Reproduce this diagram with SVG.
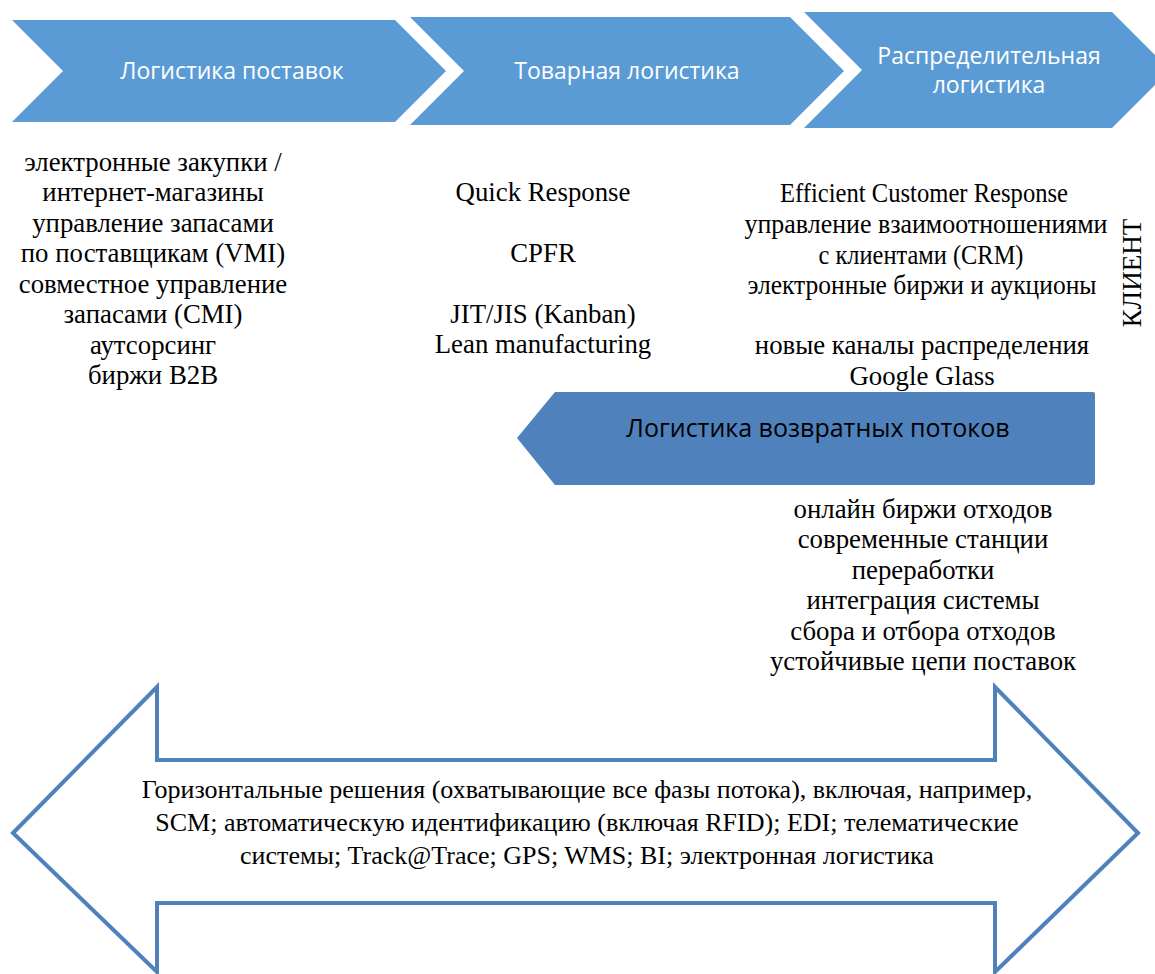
<svg xmlns="http://www.w3.org/2000/svg" width="1155" height="974" viewBox="0 0 1155 974">
<style>
.chev{fill:#5b9bd5;}
.lab{font-family:"Open Sans","Liberation Sans",sans-serif;font-size:23px;fill:#ffffff;text-anchor:middle;}
.ret{fill:#4f81bd;}
.retlab{font-family:"Open Sans","Liberation Sans",sans-serif;font-size:25px;fill:#000000;text-anchor:middle;}
.t{font-family:"Liberation Serif","Times New Roman",serif;font-size:26.8px;fill:#000000;text-anchor:middle;}
.b{font-size:26px;}
.big{fill:#ffffff;stroke:#4f81bd;stroke-width:4;stroke-linejoin:miter;}
</style>
<rect width="1155" height="974" fill="#ffffff"/>
<g id="node-supply">
<polygon class="chev" points="12,20 395,20 446,71 395,122 12,122 63,71"/>
<text class="lab" x="232" y="79">Логистика поставок</text>
</g>
<g id="node-goods">
<polygon class="chev" points="410,17 790,17 844,71 790,125 410,125 464,71"/>
<text class="lab" x="627" y="79">Товарная логистика</text>
</g>
<g id="node-distribution">
<polygon class="chev" points="804,12 1112,12 1170,70 1112,128 804,128 862,70"/>
<text class="lab" x="989" y="64">Распределительная</text>
<text class="lab" x="989" y="93">логистика</text>
</g>
<g id="col-supply">
<text class="t" x="153" y="171">электронные закупки /</text>
<text class="t" x="153" y="201">интернет-магазины</text>
<text class="t" x="153" y="232">управление запасами</text>
<text class="t" x="153" y="262">по поставщикам (VMI)</text>
<text class="t" x="153" y="293">совместное управление</text>
<text class="t" x="153" y="323">запасами (CMI)</text>
<text class="t" x="153" y="354">аутсорсинг</text>
<text class="t" x="153" y="384">биржи B2B</text>
</g>
<g id="col-goods">
<text class="t" x="543" y="201">Quick Response</text>
<text class="t" x="543" y="262">CPFR</text>
<text class="t" x="543" y="323">JIT/JIS (Kanban)</text>
<text class="t" x="543" y="353">Lean manufacturing</text>
</g>
<g id="col-distribution">
<text class="t" x="924" y="202" textLength="288" lengthAdjust="spacingAndGlyphs">Efficient Customer Response</text>
<text class="t" x="926" y="233" textLength="363" lengthAdjust="spacingAndGlyphs">управление взаимоотношениями</text>
<text class="t" x="921" y="264" textLength="205" lengthAdjust="spacingAndGlyphs">с клиентами (CRM)</text>
<text class="t" x="922" y="294" textLength="349" lengthAdjust="spacingAndGlyphs">электронные биржи и аукционы</text>
<text class="t" x="922" y="354">новые каналы распределения</text>
<text class="t" x="922" y="385">Google Glass</text>
</g>
<g id="node-client">
<text class="t" transform="translate(1141,273) rotate(-90)" x="0" y="0" style="font-size:27px">КЛИЕНТ</text>
</g>
<g id="node-return">
<path class="ret" d="M517,438 L555,392 L1093,392 Q1095,392 1095,394 L1095,483 Q1095,485 1093,485 L555,485 Z"/>
<text class="retlab" x="818" y="437">Логистика возвратных потоков</text>
</g>
<g id="col-return">
<text class="t" x="923" y="518">онлайн биржи отходов</text>
<text class="t" x="923" y="548">современные станции</text>
<text class="t" x="923" y="579">переработки</text>
<text class="t" x="923" y="609">интеграция системы</text>
<text class="t" x="923" y="640">сбора и отбора отходов</text>
<text class="t" x="923" y="670">устойчивые цепи поставок</text>
</g>
<g id="node-horizontal">
<polygon class="big" points="13,833 157,687 157,760 995,760 995,687 1138,833 995,972 995,903 157,903 157,972"/>
<text class="t b" x="587" y="798">Горизонтальные решения (охватывающие все фазы потока), включая, например,</text>
<text class="t b" x="587" y="831">SCM; автоматическую идентификацию (включая RFID); EDI; телематические</text>
<text class="t b" x="587" y="864">системы; Track@Trace; GPS; WMS; BI; электронная логистика</text>
</g>
<g id="connectors"></g>
</svg>
